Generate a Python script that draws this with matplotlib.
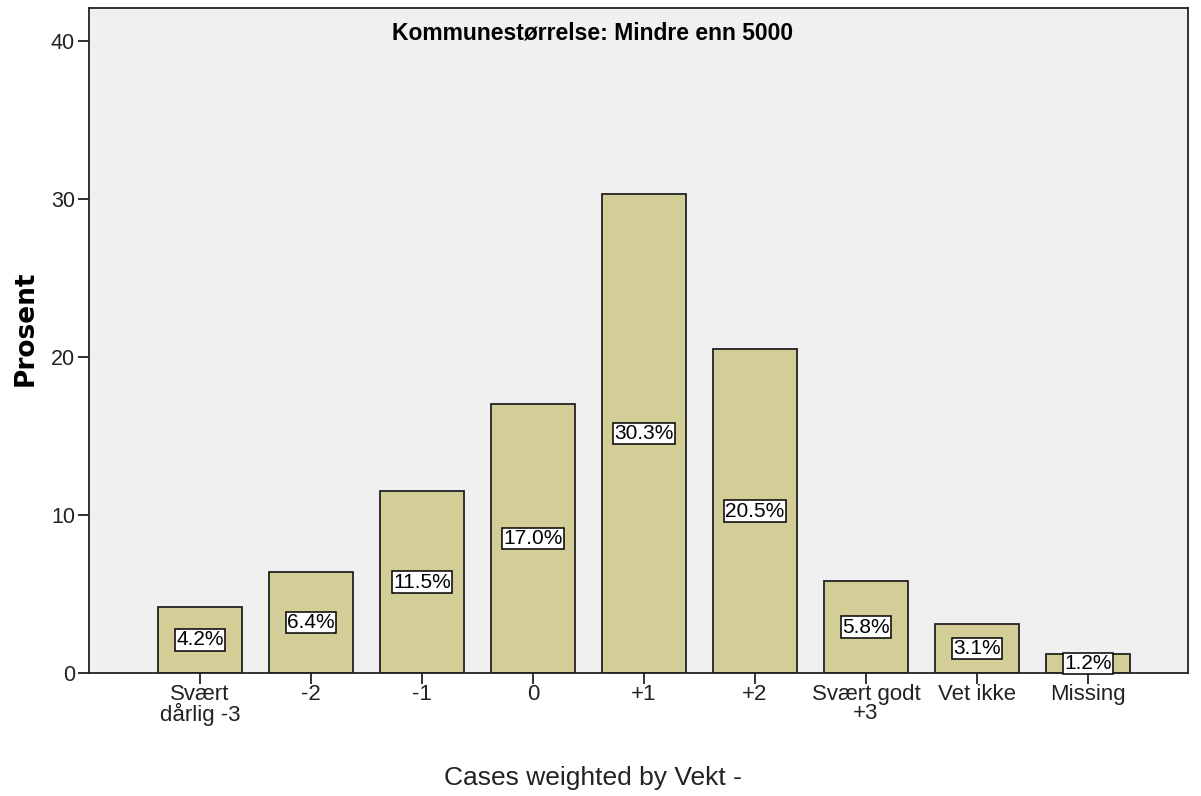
import numpy as np
import matplotlib.pyplot as plt

kategorier = ['Svært\ndårlig -3', '-2', '-1', '0', '+1', '+2', 'Svært godt\n+3', 'Vet ikke', 'Missing']
prosent = [4.2, 6.4, 11.5, 17.0, 30.3, 20.5, 5.8, 3.1, 1.2]
etiketter = ['4.2%', '6.4%', '11.5%', '17.0%', '30.3%', '20.5%', '5.8%', '3.1%', '1.2%']
yticks = [0, 10, 20, 30, 40]

plt.rcParams['font.family'] = ['Liberation Sans', 'DejaVu Sans']

fig = plt.figure(figsize=(12.01, 7.96), dpi=100)
ax = fig.add_axes([0.0741, 0.1545, 0.9149, 0.8355])
ax.set_facecolor('#F0F0F0')

x = np.arange(len(kategorier))
ax.bar(x, prosent, width=0.76, color='#D3CE97', edgecolor='#222222', linewidth=1.3, zorder=2)

for xi, v, t in zip(x, prosent, etiketter):
    ax.text(xi, v / 2, t, ha='center', va='center', fontsize=15, color='black', zorder=3,
            bbox=dict(boxstyle='square,pad=0.06', facecolor='white', edgecolor='black', linewidth=1.1))

ax.set_xlim(-1, 8.9)
ax.set_ylim(0, 42.1)
ax.set_xticks(x)
ax.set_xticklabels(kategorier, fontsize=16, color='#222222', linespacing=0.85)
ax.set_yticks(yticks)
ax.set_yticklabels([str(v) for v in yticks], fontsize=15.5, color='#222222')
ax.tick_params(axis='both', direction='out', length=8, width=1.3, color='#222222', pad=2)
ax.tick_params(axis='x', pad=0)
for s in ax.spines.values():
    s.set_linewidth(1.3)
    s.set_color('#222222')

fig.text(0.021, 1 - 328 / 796, 'Prosent', rotation=90, ha='center', va='center',
         fontsize=19, fontweight='bold', family='DejaVu Sans')
ax.text(0.458, 0.963, 'Kommunestørrelse: Mindre enn 5000', transform=ax.transAxes,
        ha='center', va='center', fontsize=16.5, fontweight='bold')
fig.text(0.494, 0.022, 'Cases weighted by Vekt -', ha='center', va='center', fontsize=19, color='#222222')

fig.savefig('out.png', dpi=100)
